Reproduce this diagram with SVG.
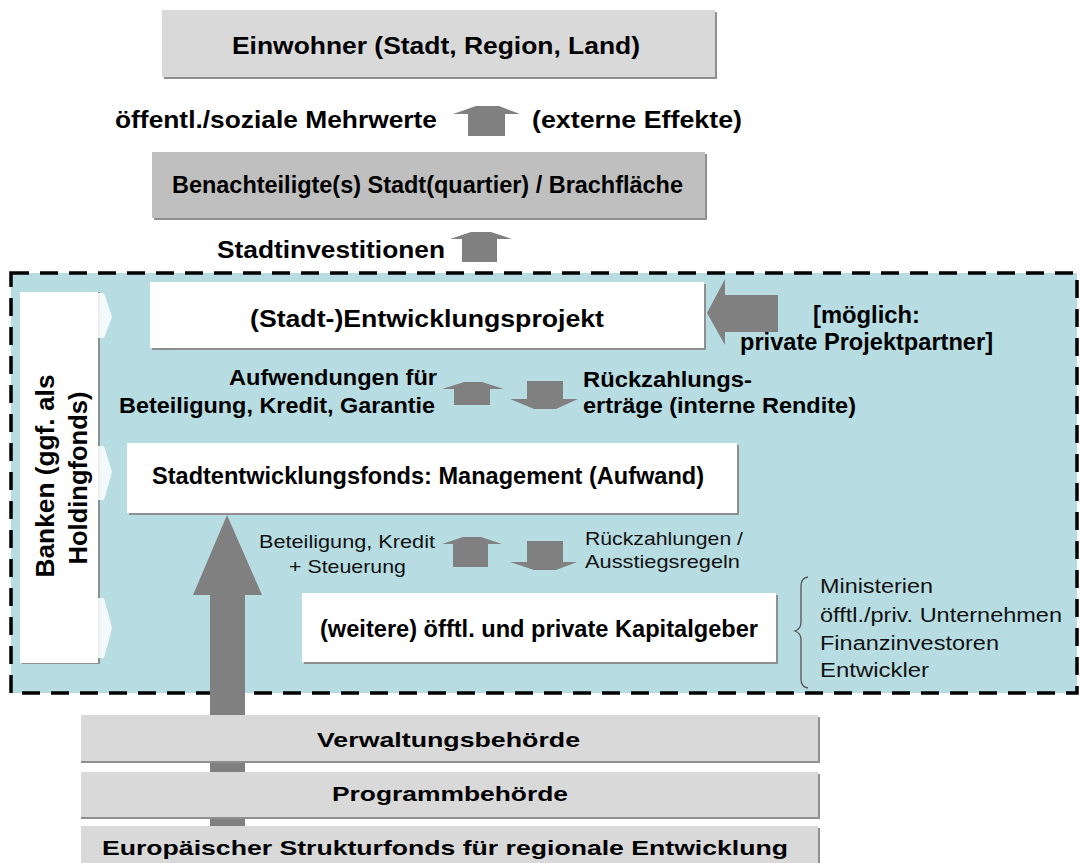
<svg xmlns="http://www.w3.org/2000/svg" width="1080" height="863" viewBox="0 0 1080 863">
  <style>
    .b { font-family: "Liberation Sans", Arial, sans-serif; font-weight: bold; fill: #000; }
    .r { font-family: "Liberation Sans", Arial, sans-serif; font-weight: normal; fill: #111; }
    .arr { fill: #808080; }
    .shd { fill: #8f8f8f; }
    .lg { fill: #d9d9d9; }
    .dg { fill: #bfbfbf; }
    .wh { fill: #ffffff; }
    .chev { fill: #ffffff; opacity: 0.85; }
  </style>

  <rect x="0" y="0" width="1080" height="863" fill="#ffffff"/>

  <!-- fund area (dashed frame) -->
  <g id="fund-area">
    <rect x="11" y="273" width="1066" height="420" fill="#b7dde3" stroke="#000" stroke-width="3.5" stroke-dasharray="18 11"/>
  </g>

  <!-- residents -->
  <g id="einwohner">
    <rect class="shd" x="164" y="12" width="553" height="67"/>
    <rect class="lg" x="162" y="10" width="553" height="67"/>
    <text class="b" x="232" y="54" font-size="24" textLength="408" lengthAdjust="spacingAndGlyphs">Einwohner (Stadt, Region, Land)</text>
  </g>

  <!-- deprived district -->
  <g id="stadtquartier">
    <rect class="shd" x="154" y="154" width="553" height="66"/>
    <rect class="dg" x="152" y="152" width="553" height="66"/>
    <text class="b" x="172" y="193" font-size="24" textLength="511" lengthAdjust="spacingAndGlyphs">Benachteiligte(s) Stadt(quartier) / Brachfläche</text>
  </g>

  <!-- banks column -->
  <g id="banken">
    <rect class="shd" x="22" y="292" width="78" height="372"/>
    <rect class="wh" x="20" y="292" width="78" height="371"/>
    <polygon class="chev" points="98,293 104,293 112,317 104,338 98,338"/>
    <polygon class="chev" points="98,446 104,446 112,472 104,500 98,500"/>
    <polygon class="chev" points="98,598 104,598 112,628 104,658 98,658"/>
    <text class="b" font-size="25" text-anchor="middle" transform="translate(54,476) rotate(-90)" textLength="203" lengthAdjust="spacingAndGlyphs">Banken (ggf. als</text>
    <text class="b" font-size="25" text-anchor="middle" transform="translate(87,478) rotate(-90)" textLength="173" lengthAdjust="spacingAndGlyphs">Holdingfonds)</text>
  </g>

  <!-- development project -->
  <g id="projekt">
    <rect class="shd" x="152" y="284" width="554" height="66"/>
    <rect class="wh" x="150" y="282" width="554" height="66"/>
    <text class="b" x="250" y="327" font-size="23" textLength="354" lengthAdjust="spacingAndGlyphs">(Stadt-)Entwicklungsprojekt</text>
  </g>

  <!-- urban development fund -->
  <g id="fonds">
    <rect class="shd" x="129" y="445" width="610" height="70"/>
    <rect class="wh" x="127" y="443" width="610" height="70"/>
    <text class="b" x="152" y="484" font-size="23" textLength="552" lengthAdjust="spacingAndGlyphs">Stadtentwicklungsfonds: Management (Aufwand)</text>
  </g>

  <!-- further capital providers -->
  <g id="kapitalgeber">
    <rect class="shd" x="304" y="595" width="474" height="69"/>
    <rect class="wh" x="302" y="593" width="474" height="69"/>
    <text class="b" x="320" y="637" font-size="23" textLength="438" lengthAdjust="spacingAndGlyphs">(weitere) öfftl. und private Kapitalgeber</text>
  </g>

  <!-- private partners label -->
  <g id="projektpartner">
    <text class="b" x="813" y="323" font-size="23" textLength="107" lengthAdjust="spacingAndGlyphs">[möglich:</text>
    <text class="b" x="740" y="350" font-size="23" textLength="253" lengthAdjust="spacingAndGlyphs">private Projektpartner]</text>
  </g>

  <!-- investor types with brace -->
  <g id="investoren">
    <path d="M808,577 Q801,578 801,586 L801,622 Q801,629 795,631 Q801,633 801,640 L801,679 Q801,687 808,688" fill="none" stroke="#555" stroke-width="1.3"/>
    <text class="r" x="820" y="593" font-size="20" textLength="113" lengthAdjust="spacingAndGlyphs">Ministerien</text>
    <text class="r" x="820" y="622" font-size="20" textLength="242" lengthAdjust="spacingAndGlyphs">öfftl./priv. Unternehmen</text>
    <text class="r" x="820" y="650" font-size="20" textLength="179" lengthAdjust="spacingAndGlyphs">Finanzinvestoren</text>
    <text class="r" x="820" y="677" font-size="20" textLength="109" lengthAdjust="spacingAndGlyphs">Entwickler</text>
  </g>

  <!-- flow labels -->
  <g id="labels">
    <text class="b" x="115" y="128" font-size="24" textLength="322" lengthAdjust="spacingAndGlyphs">öffentl./soziale Mehrwerte</text>
    <text class="b" x="532" y="128" font-size="24" textLength="210" lengthAdjust="spacingAndGlyphs">(externe Effekte)</text>
    <text class="b" x="217" y="258" font-size="24" textLength="228" lengthAdjust="spacingAndGlyphs">Stadtinvestitionen</text>
    <text class="b" x="229" y="385" font-size="22" textLength="208" lengthAdjust="spacingAndGlyphs">Aufwendungen für</text>
    <text class="b" x="119" y="413" font-size="22" textLength="316" lengthAdjust="spacingAndGlyphs">Beteiligung, Kredit, Garantie</text>
    <text class="b" x="583" y="387" font-size="22" textLength="169" lengthAdjust="spacingAndGlyphs">Rückzahlungs-</text>
    <text class="b" x="583" y="413" font-size="22" textLength="273" lengthAdjust="spacingAndGlyphs">erträge (interne Rendite)</text>
    <text class="r" x="259" y="548" font-size="19" textLength="176" lengthAdjust="spacingAndGlyphs">Beteiligung, Kredit</text>
    <text class="r" x="289" y="573" font-size="19" textLength="117" lengthAdjust="spacingAndGlyphs">+ Steuerung</text>
    <text class="r" x="585" y="545" font-size="19" textLength="158" lengthAdjust="spacingAndGlyphs">Rückzahlungen /</text>
    <text class="r" x="585" y="568" font-size="19" textLength="155" lengthAdjust="spacingAndGlyphs">Ausstiegsregeln</text>
  </g>

  <!-- connectors (block arrows) -->
  <g id="connectors">
    <polygon class="arr" points="468,136 468,114 453,114 476,106 499,106 520,114 505,114 505,136"/>
    <polygon class="arr" points="462,262 462,239 450,239 471,232 491,232 512,239 497,239 497,262"/>
    <polygon class="arr" points="454,405 454,389 442,389 464,382 482,382 504,389 490,389 490,405"/>
    <polygon class="arr" points="527,381 563,381 563,399 578,399 556,409 534,409 510,399 527,399"/>
    <polygon class="arr" points="453,567 453,544 442,544 463,537 481,537 502,544 488,544 488,567"/>
    <polygon class="arr" points="527,541 563,541 563,562 577,562 556,570 534,570 510,562 527,562"/>
    <polygon class="arr" points="778,295 778,332 725,332 725,345 707,313 725,279 725,295"/>
    <polygon class="arr" points="210,835 210,595 193,595 227,515 262,595 245,595 245,835"/>
  </g>

  <!-- managing authorities and fund source -->
  <g id="verwaltungsbehoerde">
    <rect class="shd" x="81" y="717" width="739" height="46"/>
    <rect class="lg" x="81" y="715" width="737" height="46"/>
    <text class="b" x="317" y="747" font-size="21" textLength="263" lengthAdjust="spacingAndGlyphs">Verwaltungsbehörde</text>
  </g>
  <g id="programmbehoerde">
    <rect class="shd" x="81" y="774" width="739" height="45"/>
    <rect class="lg" x="81" y="772" width="737" height="45"/>
    <text class="b" x="332" y="801" font-size="21" textLength="236" lengthAdjust="spacingAndGlyphs">Programmbehörde</text>
  </g>
  <g id="strukturfonds">
    <rect class="shd" x="81" y="828" width="739" height="40"/>
    <rect class="lg" x="81" y="826" width="737" height="40"/>
    <text class="b" x="102" y="855" font-size="21" textLength="686" lengthAdjust="spacingAndGlyphs">Europäischer Strukturfonds für regionale Entwicklung</text>
  </g>
</svg>
